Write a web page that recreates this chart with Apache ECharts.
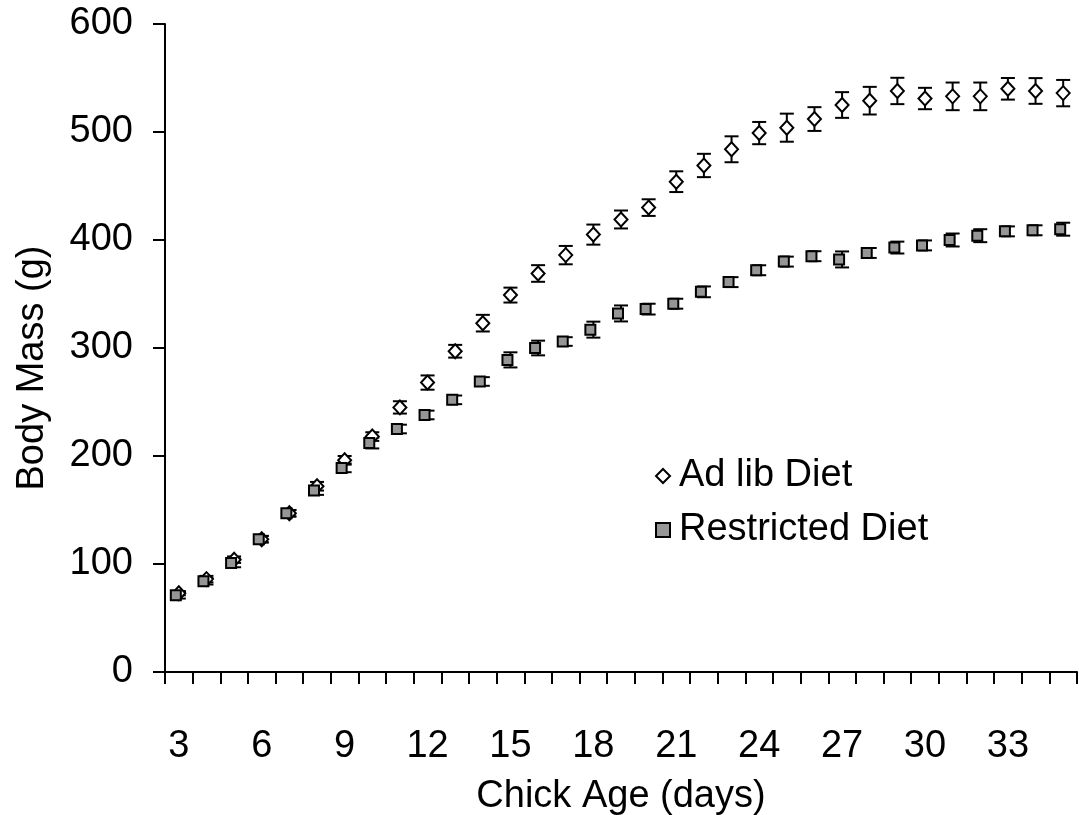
<!DOCTYPE html>
<html>
<head>
<meta charset="utf-8">
<title>Chick body mass by diet</title>
<script src="https://cdn.jsdelivr.net/npm/echarts@6/dist/echarts.min.js"></script>
<style>
  html, body { margin: 0; padding: 0; background: #ffffff; }
  #chart { width: 1079px; height: 815px; }
</style>
</head>
<body>
<div id="chart"></div>
<script>
// Chick age in days (one category per day)
const ages = [3,4,5,6,7,8,9,10,11,12,13,14,15,16,17,18,19,20,21,22,23,24,25,26,27,28,29,30,31,32,33,34,35];

// Mean body mass (g) and standard error, ad lib diet
const adLibMean = [73,86,104,123,147,172,196,218,245,268,297,323,349,369,386,405,419,430,454,469,484,499,504,512,525,529,538,531,533,533,540,538,536];
const adLibErr  = [2,3,3,3,3,4,4,4,5.7,6.6,5.9,7.7,6.9,7.7,8.5,9.3,8.3,7.7,9.6,10.8,12,10.3,13,11,11.9,12.8,12.2,9.9,12.8,12.8,10,11.9,12.2];

// Mean body mass (g) and standard error, restricted diet
const restrictedMean = [71,84,101,123,147,168,189,212,225,238,252,269,289,300,306,317,332,336,341,352,361,372,380,385,382,388,393,395,400,404,408,409,410];
const restrictedErr  = [3,3,4,3,3,4,4,5,4,4,4,4,7,6.8,4,7.4,7.4,5,4.6,5,4.6,4.6,4.6,4.6,7.4,4.6,5.5,4.6,6,6,4.6,4.6,6];

// Y axis tick values
const massTicks = [0,100,200,300,400,500,600];

const FONT = "'Liberation Sans', Arial, sans-serif";
const FS = 38;

function errorData(mean, err) {
  return mean.map((m, i) => [i, m - err[i], m + err[i]]);
}

function renderErrorBar(params, api) {
  const x = api.value(0);
  const lo = api.coord([x, api.value(1)]);
  const hi = api.coord([x, api.value(2)]);
  const half = 7;
  const style = { stroke: '#000', lineWidth: 2, fill: null };
  return {
    type: 'group',
    children: [
      { type: 'line', shape: { x1: hi[0], y1: hi[1], x2: lo[0], y2: lo[1] }, style: style },
      { type: 'line', shape: { x1: hi[0] - half, y1: hi[1], x2: hi[0] + half, y2: hi[1] }, style: style },
      { type: 'line', shape: { x1: lo[0] - half, y1: lo[1], x2: lo[0] + half, y2: lo[1] }, style: style }
    ]
  };
}

const chart = echarts.init(document.getElementById('chart'), null, { renderer: 'canvas' });

chart.setOption({
  animation: false,
  backgroundColor: '#ffffff',
  textStyle: { fontFamily: FONT, color: '#000' },
  grid: { left: 165, right: 2, top: 24, bottom: 143, containLabel: false, outerBoundsMode: 'none' },
  legend: {
    orient: 'vertical',
    left: 650,
    top: 452,
    itemWidth: 14,
    itemHeight: 14,
    itemGap: 16,
    selectedMode: false,
    data: ['Ad lib Diet', 'Restricted Diet'],
    textStyle: { fontFamily: FONT, fontSize: FS, color: '#000', lineHeight: 38, padding: [0, 0, 0, 4] }
  },
  xAxis: {
    type: 'category',
    data: ages.map(String),
    boundaryGap: true,
    name: 'Chick Age (days)',
    nameLocation: 'middle',
    nameGap: 106,
    nameTextStyle: { fontFamily: FONT, fontSize: FS, color: '#000' },
    axisLine: { lineStyle: { color: '#000', width: 2 } },
    axisTick: { show: true, interval: 0, length: 12, lineStyle: { color: '#000', width: 2 } },
    axisLabel: { interval: 2, margin: 56, fontFamily: FONT, fontSize: FS, color: '#000' },
    splitLine: { show: false }
  },
  yAxis: {
    type: 'value',
    min: massTicks[0],
    max: massTicks[massTicks.length - 1],
    interval: massTicks[1] - massTicks[0],
    axisLine: { show: true, lineStyle: { color: '#000', width: 2 } },
    axisTick: { show: true, length: 12, lineStyle: { color: '#000', width: 2 } },
    axisLabel: { margin: 32, fontFamily: FONT, fontSize: FS, color: '#000' },
    splitLine: { show: false }
  },
  graphic: [{
    type: 'text',
    x: 33,
    y: 368,
    rotation: Math.PI / 2,
    style: {
      text: 'Body Mass (g)',
      font: FS + 'px ' + FONT,
      fill: '#000',
      align: 'center',
      verticalAlign: 'middle'
    }
  }],
  series: [
    {
      name: 'Ad lib Diet error',
      type: 'custom',
      renderItem: renderErrorBar,
      data: errorData(adLibMean, adLibErr),
      encode: { x: 0, y: [1, 2] },
      silent: true
    },
    {
      name: 'Ad lib Diet',
      type: 'scatter',
      data: adLibMean,
      symbol: 'diamond',
      symbolSize: [13, 14],
      itemStyle: { color: '#ffffff', borderColor: '#000', borderWidth: 2, opacity: 1 }
    },
    {
      name: 'Restricted Diet error',
      type: 'custom',
      renderItem: renderErrorBar,
      data: errorData(restrictedMean, restrictedErr),
      encode: { x: 0, y: [1, 2] },
      silent: true
    },
    {
      name: 'Restricted Diet',
      type: 'scatter',
      data: restrictedMean,
      symbol: 'rect',
      symbolSize: 10,
      symbolOffset: [-3, 0],
      itemStyle: { color: '#969696', borderColor: '#000', borderWidth: 2, opacity: 1 }
    }
  ]
});
</script>
</body>
</html>
